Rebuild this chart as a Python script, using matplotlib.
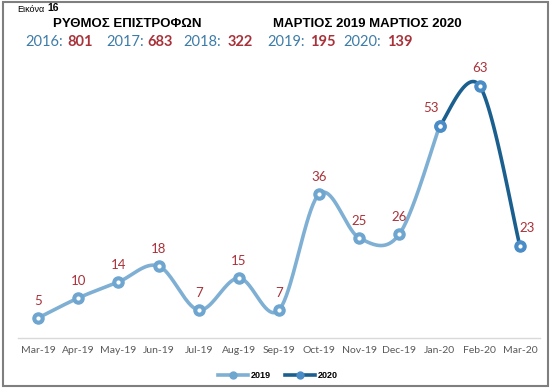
import numpy as np
import matplotlib.pyplot as plt
from matplotlib.lines import Line2D
from matplotlib.patches import Rectangle

# Data
months = ["Mar-19", "Apr-19", "May-19", "Jun-19", "Jul-19", "Aug-19", "Sep-19",
          "Oct-19", "Nov-19", "Dec-19", "Jan-20", "Feb-20", "Mar-20"]
vals_2019 = [5, 10, 14, 18, 7, 15, 7, 36, 25, 26, 53]
vals_2020 = [53, 63, 23]
start_2020 = 10   # index of Jan-20

years = ["2016", "2017", "2018", "2019", "2020"]
year_totals = [801, 683, 322, 195, 139]

W, H = 552, 392
c2019 = "#7fb0d4"
c2019_mk = "#6ea6d0"
c2020 = "#1b5f8f"
c2020_mk = "#4a8cc6"
red = "#a8323a"
blue_txt = "#3d7ca8"


def smooth(xs, ys, n=40):
    # Excel-like smoothed line: Catmull-Rom as cubic Bezier segments
    xs = np.asarray(xs, float)
    ys = np.asarray(ys, float)
    P = np.column_stack([xs, ys])
    P = np.vstack([P[0], P, P[-1]])
    out = []
    t = np.linspace(0, 1, n)[:, None]
    for i in range(1, len(P) - 2):
        p0, p1, p2, p3 = P[i - 1], P[i], P[i + 1], P[i + 2]
        c1 = p1 + (p2 - p0) / 6
        c2 = p2 - (p3 - p1) / 6
        seg = ((1 - t) ** 3) * p1 + 3 * ((1 - t) ** 2) * t * c1 + 3 * (1 - t) * t ** 2 * c2 + t ** 3 * p2
        out.append(seg)
    out = np.vstack(out)
    return out[:, 0], out[:, 1]


fig = plt.figure(figsize=(W / 100, H / 100), dpi=100)
ax = fig.add_axes([18 / W, (H - 338) / H, 522 / W, 280 / H])

x19 = np.arange(len(vals_2019))
x20 = np.arange(start_2020, start_2020 + len(vals_2020))

sx, sy = smooth(x19, vals_2019)
ax.plot(sx, sy, color=c2019, lw=2.6, solid_capstyle="round", zorder=2)
sx, sy = smooth(x20, vals_2020)
ax.plot(sx, sy, color=c2020, lw=2.6, solid_capstyle="round", zorder=3)

ax.plot(x19, vals_2019, "o", ms=8, color=c2019_mk, zorder=4)
ax.plot(x19, vals_2019, "o", ms=2, color="white", zorder=5)
ax.plot(x20, vals_2020, "o", ms=8, color=c2020_mk, zorder=4)
ax.plot(x20, vals_2020, "o", ms=2, color="white", zorder=5)

# data labels
for i, v in enumerate(vals_2019[:-1]):
    ax.annotate(str(v), (i, v), xytext=(0, 12.5), textcoords="offset points",
                ha="center", va="center", color=red, fontsize=9.5, family="Lato")
for i, v in zip(x20, vals_2020):
    dx = -6 if i == start_2020 else (5 if i == x20[-1] else 0)
    ax.annotate(str(v), (i, v), xytext=(dx, 13), textcoords="offset points",
                ha="center", va="center", color=red, fontsize=9.5, family="Lato")

ax.set_xlim(-0.5, len(months) - 0.5)
ax.set_ylim(0, 70)
ax.set_xticks(range(len(months)))
ax.set_xticklabels(months, fontsize=7.5, color="#595959", family="Lato")
ax.tick_params(axis="x", length=0, pad=6)
ax.set_yticks([])
for s in ["top", "right", "left"]:
    ax.spines[s].set_visible(False)
ax.spines["bottom"].set_color("#d9d9d9")
ax.spines["bottom"].set_linewidth(1)
ax.patch.set_alpha(0)

# header texts
fig.text(17 / W, 1 - 9 / H, "Εικόνα", fontsize=6.5,
         family="Liberation Sans", va="center", ha="left")
fig.text(47 / W, 1 - 8 / H, "16", fontsize=7.5, fontweight="bold",
         family="Liberation Sans", va="center", ha="left")
fig.text(53 / W, 1 - 24 / H, "ΡΥΘΜΟΣ ΕΠΙΣΤΡΟΦΩΝ", fontsize=9.5, fontweight="bold",
         family="Liberation Sans", va="center", ha="left")
fig.text(273 / W, 1 - 24 / H, "ΜΑΡΤΙΟΣ 2019 ΜΑΡΤΙΟΣ 2020", fontsize=9.5, fontweight="bold",
         family="Liberation Sans", va="center", ha="left")

year_x = [25, 106, 183, 267, 343]
num_x = [67, 147, 228, 310, 387]
for yr, tot, xa, xb in zip(years, year_totals, year_x, num_x):
    fig.text(xa / W, 1 - 42 / H, yr + ":", fontsize=10.5, color=blue_txt,
             family="Lato", va="center", ha="left")
    fig.text(xb / W, 1 - 42 / H, str(tot), fontsize=10.5, color=red,
             family="Lato", fontweight="bold", va="center", ha="left")

# legend
handles = [Line2D([], [], color=c2019, lw=2.6, marker="o", ms=5, mfc=c2019_mk, mec=c2019_mk),
           Line2D([], [], color=c2020, lw=2.6, marker="o", ms=5, mfc=c2020_mk, mec=c2020_mk)]
leg = fig.legend(handles, ["2019", "2020"], loc="center", bbox_to_anchor=(278 / W, 1 - 376 / H),
                 ncol=2, frameon=False, handlelength=3.3, columnspacing=1.6,
                 handletextpad=0.3, prop={"weight": "bold", "size": 6.5, "family": "Liberation Sans"})

# outer frame
fig.patches.append(Rectangle((3 / W, 1 - 386 / H), 545 / W, 384 / H, transform=fig.transFigure,
                             fill=False, edgecolor="#7f7f7f", lw=1.5))

fig.savefig("out.png", dpi=100)
